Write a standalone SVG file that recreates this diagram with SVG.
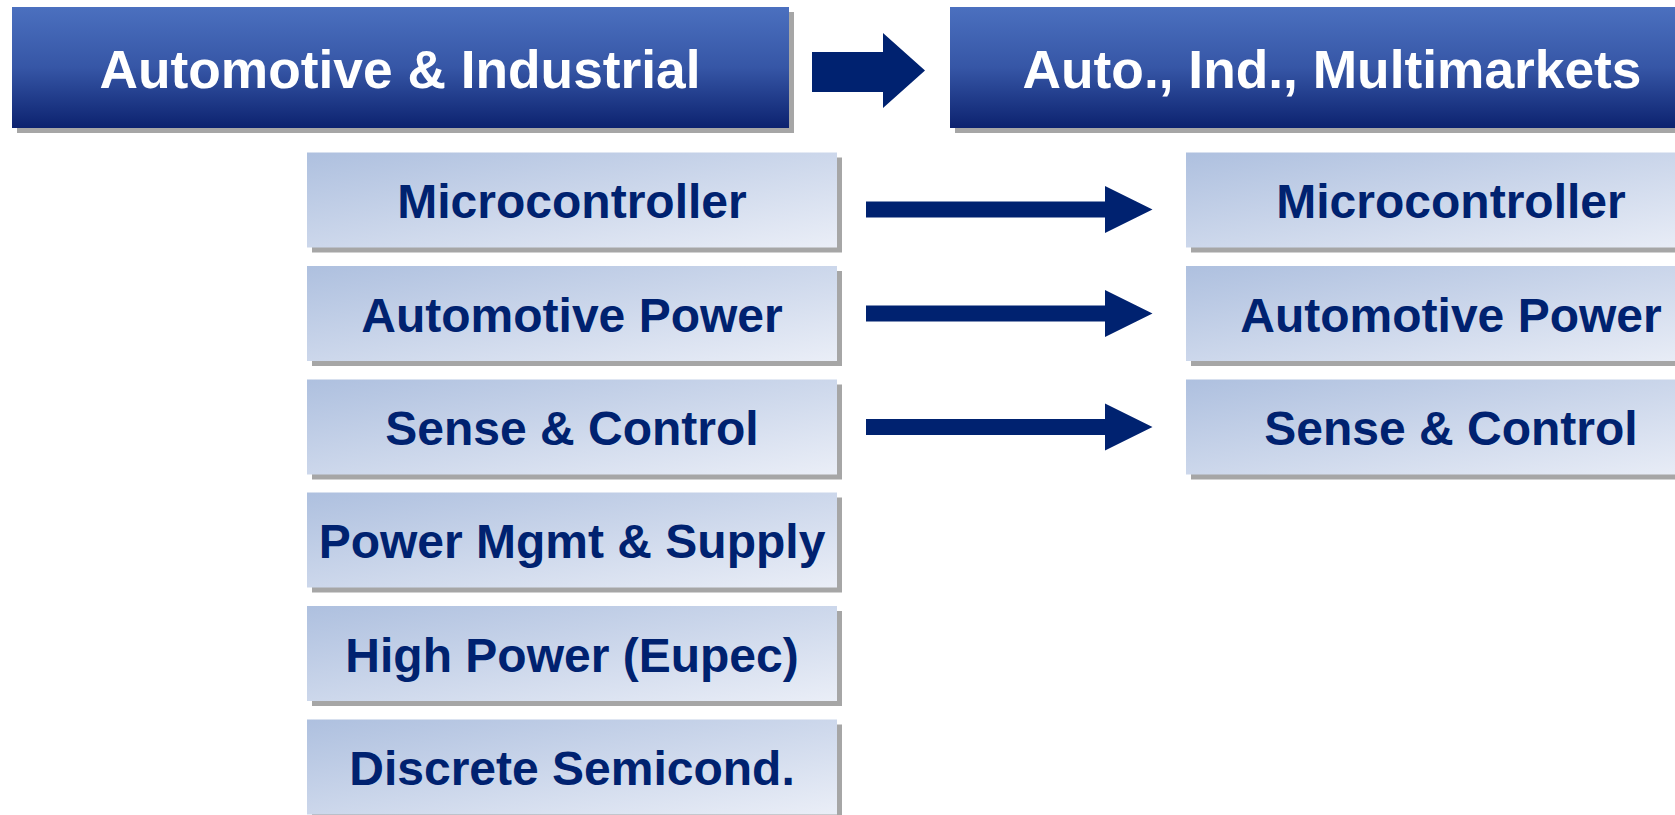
<svg xmlns="http://www.w3.org/2000/svg" width="1675" height="815" viewBox="0 0 1675 815">
  <defs>
    <linearGradient id="headFill" x1="0" y1="0" x2="0" y2="1">
      <stop offset="0" stop-color="#4B70BF"/>
      <stop offset="0.5" stop-color="#3656A6"/>
      <stop offset="1" stop-color="#0C226F"/>
    </linearGradient>
    <linearGradient id="unitFill" x1="0" y1="0" x2="1" y2="1">
      <stop offset="0" stop-color="#AEC0DF"/>
      <stop offset="1" stop-color="#EAEEF7"/>
    </linearGradient>
  </defs>
  <style>
    .shadow { fill: #A6A6A6; }
    .head { fill: url(#headFill); }
    .unit { fill: url(#unitFill); }
    .headText { font-family: "Liberation Sans", Arial, sans-serif; font-weight: bold; font-size: 53.3px; fill: #FFFFFF; text-anchor: middle; }
    .unitText { font-family: "Liberation Sans", Arial, sans-serif; font-weight: bold; font-size: 48px; fill: #002270; text-anchor: middle; }
    .arrow { fill: #002270; }
  </style>
  <rect width="1675" height="815" fill="#FFFFFF"/>

  <!-- segment headers -->
  <g id="header-left">
    <rect class="shadow" x="17" y="12" width="777" height="121"/>
    <rect class="head" x="12" y="7" width="777" height="121"/>
    <text class="headText" x="400" y="88">Automotive &amp; Industrial</text>
  </g>
  <g id="header-right">
    <rect class="shadow" x="955" y="12" width="730" height="121"/>
    <rect class="head" x="950" y="7" width="730" height="121"/>
    <text class="headText" x="1332" y="88">Auto., Ind., Multimarkets</text>
  </g>

  <!-- business units, old structure -->
  <g id="old-microcontroller">
    <rect class="shadow" x="312" y="157.5" width="530" height="95"/>
    <rect class="unit" x="307" y="152.5" width="530" height="95"/>
    <text class="unitText" x="572" y="218">Microcontroller</text>
  </g>
  <g id="old-automotive-power">
    <rect class="shadow" x="312" y="271" width="530" height="95"/>
    <rect class="unit" x="307" y="266" width="530" height="95"/>
    <text class="unitText" x="572" y="331.5">Automotive Power</text>
  </g>
  <g id="old-sense-control">
    <rect class="shadow" x="312" y="384.5" width="530" height="95"/>
    <rect class="unit" x="307" y="379.5" width="530" height="95"/>
    <text class="unitText" x="572" y="445">Sense &amp; Control</text>
  </g>
  <g id="old-power-mgmt">
    <rect class="shadow" x="312" y="497.5" width="530" height="95"/>
    <rect class="unit" x="307" y="492.5" width="530" height="95"/>
    <text class="unitText" x="572" y="558">Power Mgmt &amp; Supply</text>
  </g>
  <g id="old-high-power">
    <rect class="shadow" x="312" y="611" width="530" height="95"/>
    <rect class="unit" x="307" y="606" width="530" height="95"/>
    <text class="unitText" x="572" y="671.5">High Power (Eupec)</text>
  </g>
  <g id="old-discrete">
    <rect class="shadow" x="312" y="724.5" width="530" height="95"/>
    <rect class="unit" x="307" y="719.5" width="530" height="95"/>
    <text class="unitText" x="572" y="785">Discrete Semicond.</text>
  </g>

  <!-- business units, new structure -->
  <g id="new-microcontroller">
    <rect class="shadow" x="1191" y="157.5" width="530" height="95"/>
    <rect class="unit" x="1186" y="152.5" width="530" height="95"/>
    <text class="unitText" x="1451" y="218">Microcontroller</text>
  </g>
  <g id="new-automotive-power">
    <rect class="shadow" x="1191" y="271" width="530" height="95"/>
    <rect class="unit" x="1186" y="266" width="530" height="95"/>
    <text class="unitText" x="1451" y="331.5">Automotive Power</text>
  </g>
  <g id="new-sense-control">
    <rect class="shadow" x="1191" y="384.5" width="530" height="95"/>
    <rect class="unit" x="1186" y="379.5" width="530" height="95"/>
    <text class="unitText" x="1451" y="445">Sense &amp; Control</text>
  </g>

  <!-- connectors -->
  <g id="connectors">
    <polygon class="arrow" points="812,52 883,52 883,33 925,70.5 883,108 883,92 812,92"/>
    <polygon class="arrow" points="866,201.5 1105,201.5 1105,186 1152.5,209.5 1105,233 1105,217.5 866,217.5"/>
    <polygon class="arrow" points="866,305.5 1105,305.5 1105,290 1152.5,313.5 1105,337 1105,321.5 866,321.5"/>
    <polygon class="arrow" points="866,419 1105,419 1105,403.5 1152.5,427 1105,450.5 1105,435 866,435"/>
  </g>
</svg>
